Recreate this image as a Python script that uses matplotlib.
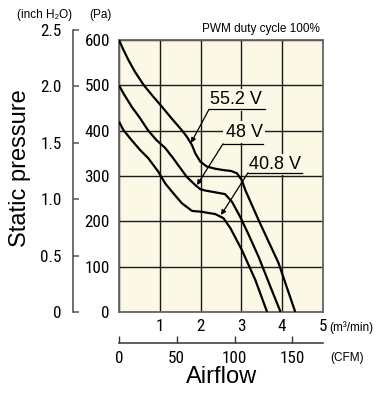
"""
Fan P-Q curve: static pressure vs airflow at PWM duty cycle 100%.
Output: out.png
"""
import matplotlib
matplotlib.use("Agg")
import matplotlib.pyplot as plt
from matplotlib.font_manager import FontProperties

plt.rcParams.update({
    "font.family": ["Liberation Sans", "DejaVu Sans"],
    "figure.dpi":  100,
})

NARROW = FontProperties(family=["Roboto Condensed", "Liberation Sans", "DejaVu Sans"], size=12.3)

BG_COLOR   = "#FBF8E6"
GRID_COLOR = "#1a1a1a"
SPINE_GRAY = "#666666"

PA_PER_INH2O = 249.089
M3MIN_PER_CFM = 0.0283168

# Curves: airflow (m3/min) and static pressure (Pa)
flow_552 = [0.0, 0.11, 0.23, 0.39, 0.61, 0.84, 1.05, 1.29, 1.54, 1.66, 1.79, 1.87, 1.99,
            2.15, 2.36, 2.56, 2.75, 2.89, 3.01, 3.10, 3.42, 3.91, 4.32]
pres_552 = [600, 578, 556, 530, 500, 475, 453, 427, 401, 387, 368, 350, 332,
            321, 316, 313, 311, 306, 291, 268, 203, 108, 0]

flow_48 = [0.0, 0.11, 0.31, 0.52, 0.71, 0.92, 1.13, 1.33, 1.45, 1.54, 1.66, 1.87, 1.99,
           2.11, 2.36, 2.60, 2.77, 2.97, 3.18, 3.42, 3.71, 3.96]
pres_48 = [500, 482, 453, 427, 401, 379, 362, 339, 324, 313, 298, 280, 271,
           268, 264, 260, 243, 210, 170, 122, 56, 0]

flow_408 = [0.0, 0.11, 0.31, 0.52, 0.71, 0.96, 1.13, 1.33, 1.54, 1.79, 2.03, 2.36,
            2.56, 2.73, 3.01, 3.34, 3.63]
pres_408 = [420, 401, 379, 357, 340, 310, 284, 262, 240, 223, 221, 216,
            207, 185, 137, 71, 0]

curves = [
    ("55.2 V", flow_552, pres_552),
    ("48 V",   flow_48,  pres_48),
    ("40.8 V", flow_408, pres_408),
]

# label text centre, underline (x0, x1, y), arrow tip -- all in data units
labels = {
    "55.2 V": ((2.855, 468), (2.206, 3.578, 447), (1.765, 373)),
    "48 V":   ((3.064, 397), (2.549, 3.530, 371), (1.912, 280)),
    "40.8 V": ((3.824, 325), (3.162, 4.485, 307), (2.500, 214)),
}

pa_ticks    = [0, 100, 200, 300, 400, 500, 600]
inh2o_ticks = [0, 0.5, 1.0, 1.5, 2.0, 2.5]
m3_ticks    = [0, 1, 2, 3, 4, 5]
cfm_ticks   = [0, 50, 100, 150]

W, H = 380, 393
fig = plt.figure(figsize=(W / 100, H / 100))

def px(x0, y_top, w, h):
    # pixel box (from top-left) -> figure fraction rect
    return [x0 / W, 1 - (y_top + h) / H, w / W, h / H]

# Main plot
ax = fig.add_axes(px(119, 40, 204, 272))
ax.set_facecolor(BG_COLOR)
ax.set_xlim(0, 5)
ax.set_ylim(0, 600)
ax.set_xticks(m3_ticks)
ax.set_xticklabels([""] + [str(t) for t in m3_ticks[1:]])
ax.set_yticks(pa_ticks)
ax.set_yticklabels([str(t) for t in pa_ticks])
ax.grid(True, color=GRID_COLOR, lw=1.0)
ax.set_axisbelow(True)
ax.tick_params(axis="both", length=0)
ax.tick_params(axis="y", pad=6.5)
ax.tick_params(axis="x", pad=5)
for lab in ax.get_xticklabels() + ax.get_yticklabels():
    lab.set_fontproperties(NARROW)
for side in ["left", "top", "right", "bottom"]:
    ax.spines[side].set_color(SPINE_GRAY)
    ax.spines[side].set_linewidth(1.3)

for name, flow, pres in curves:
    ax.plot(flow, pres, color="black", lw=1.6, solid_capstyle="butt",
            solid_joinstyle="round", zorder=3)

for name, (txt, uline, tip) in labels.items():
    ax.text(txt[0], txt[1], name, ha="center", va="center", fontsize=13, zorder=4,
            bbox=dict(boxstyle="square,pad=0.12", fc=BG_COLOR, ec="none"))
    ax.plot([uline[0], uline[1]], [uline[2], uline[2]], color="black", lw=0.9, zorder=4)
    ax.annotate("", xy=tip, xytext=(uline[0], uline[2]), zorder=4,
                arrowprops=dict(arrowstyle="-|>", color="black", lw=0.9,
                                mutation_scale=7, shrinkA=0, shrinkB=0))

# inch H2O scale (own spine, taller than the Pa axis)
in_h = 2.5 * PA_PER_INH2O * 272 / 600
ax_in = fig.add_axes(px(73, 312 - in_h, 0.5, in_h))
ax_in.patch.set_visible(False)
ax_in.set_ylim(0, 2.5)
ax_in.set_xticks([])
ax_in.set_yticks(inh2o_ticks)
ax_in.set_yticklabels(["0"] + [f"{t:.1f}" for t in inh2o_ticks[1:]])
for lab in ax_in.get_yticklabels():
    lab.set_fontproperties(NARROW)
ax_in.tick_params(axis="y", direction="in", length=4, width=1.1, color="#555555", pad=8)
for side in ["top", "right", "bottom"]:
    ax_in.spines[side].set_visible(False)
ax_in.spines["left"].set_color("#555555")
ax_in.spines["left"].set_linewidth(1.2)

# CFM scale below
ax_cfm = fig.add_axes(px(119, 342.5, 204, 0.5))
ax_cfm.patch.set_visible(False)
ax_cfm.set_xlim(0, 5 / M3MIN_PER_CFM)
ax_cfm.set_yticks([])
ax_cfm.set_xticks(cfm_ticks)
ax_cfm.set_xticklabels([str(t) for t in cfm_ticks])
for lab in ax_cfm.get_xticklabels():
    lab.set_fontproperties(NARROW)
ax_cfm.tick_params(axis="x", direction="in", length=5, width=1.0, color="#333333", pad=6)
for side in ["top", "right", "left"]:
    ax_cfm.spines[side].set_visible(False)
ax_cfm.spines["bottom"].set_color("#333333")
ax_cfm.spines["bottom"].set_linewidth(1.1)

# Texts
def ftext(x, y, s, **kw):
    fig.text(x / W, 1 - y / H, s, **kw)

ftext(20, 168, "Static pressure", rotation=90, ha="center", va="center", fontsize=17)
ftext(222, 377, "Airflow", ha="center", va="center", fontsize=17)
ftext(45, 15, "(inch H₂O)", ha="center", va="center", fontsize=8.5)
ftext(100, 15, "(Pa)", ha="center", va="center", fontsize=8.5)
ftext(320, 29, "PWM duty cycle 100%", ha="right", va="center", fontsize=8.5)
ftext(329, 328, "(m³/min)", ha="left", va="center", fontsize=8.5)
ftext(330, 358, "(CFM)", ha="left", va="center", fontsize=8.5)

fig.savefig("out.png", dpi=100)
plt.close(fig)
